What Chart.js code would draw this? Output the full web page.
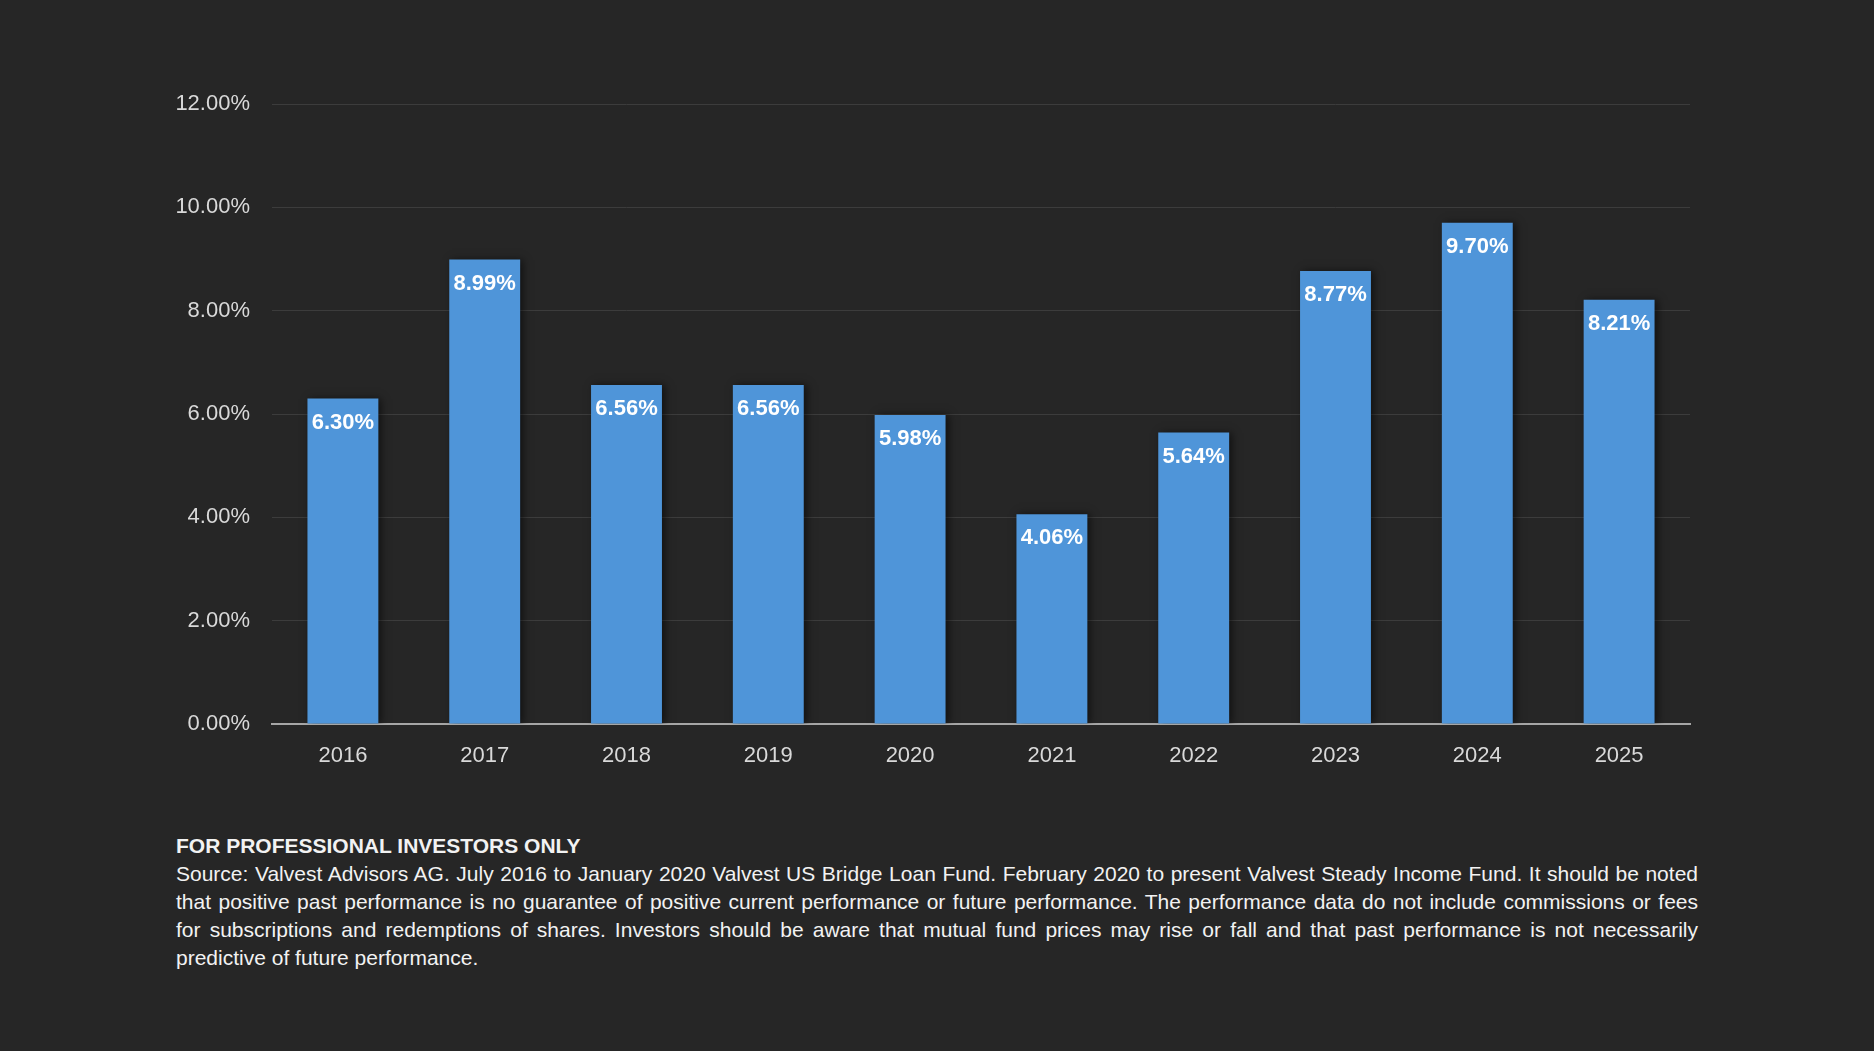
<!DOCTYPE html>
<html>
<head>
<meta charset="utf-8">
<script src="https://cdn.jsdelivr.net/npm/chart.js@4.4.1/dist/chart.umd.min.js"></script>
<style>
  html, body { margin: 0; padding: 0; background: #262626; }
  body { width: 1874px; height: 1051px; position: relative; overflow: hidden; font-family: "Liberation Sans", Arial, sans-serif; }
  #wrap { position: absolute; left: 0; top: 0; width: 1874px; height: 800px; }
  #note { position: absolute; left: 176px; top: 832px; width: 1522px; color: #f2f2f2; font-size: 21px; line-height: 28px; }
  #note div { text-align: justify; text-align-last: justify; white-space: nowrap; }
  #note div.last { text-align-last: left; }
  #note b { font-weight: bold; }
</style>
</head>
<body>
<div id="wrap"><canvas id="Chart_1"></canvas></div>
<div id="note">
  <div class="last"><b>FOR PROFESSIONAL INVESTORS ONLY</b></div>
  <div>Source: Valvest Advisors AG. July 2016 to January 2020 Valvest US Bridge Loan Fund. February 2020 to present Valvest Steady Income Fund. It should be noted</div>
  <div>that positive past performance is no guarantee of positive current performance or future performance. The performance data do not include commissions or fees</div>
  <div>for subscriptions and redemptions of shares. Investors should be aware that mutual fund prices may rise or fall and that past performance is not necessarily</div>
  <div class="last">predictive of future performance.</div>
</div>
<script>
var years = ['2016', '2017', '2018', '2019', '2020', '2021', '2022', '2023', '2024', '2025'];
var returns = [6.30, 8.99, 6.56, 6.56, 5.98, 4.06, 5.64, 8.77, 9.70, 8.21];
var yTicks = [0, 2, 4, 6, 8, 10, 12];

// shadow behind the bars + value labels inside the bar tops
var barExtras = {
    id: 'barExtras',
    beforeDatasetDraw: function(chart) {
        var c = chart.ctx;
        c.save();
        c.shadowColor = 'rgba(0,0,0,0.55)';
        c.shadowBlur = 8;
        c.shadowOffsetX = 3;
        c.shadowOffsetY = 0;
    },
    afterDatasetDraw: function(chart) {
        chart.ctx.restore();
    },
    afterDatasetsDraw: function(chart) {
        var c = chart.ctx;
        var meta = chart.getDatasetMeta(0);
        c.save();
        c.fillStyle = '#ffffff';
        c.font = 'bold 22px "Liberation Sans", Arial, sans-serif';
        c.textAlign = 'center';
        c.textBaseline = 'middle';
        meta.data.forEach(function(bar, i) {
            c.fillText(returns[i].toFixed(2) + '%', bar.x, bar.y + 24);
        });
        c.restore();
    }
};

var ctx = document.getElementById('Chart_1');
var chart = new Chart(ctx, {
    type: 'bar',
    data: {
        labels: years,
        datasets: [{
            data: returns,
            backgroundColor: '#4F95D9',
            borderWidth: 0,
            categoryPercentage: 1,
            barPercentage: 0.5
        }]
    },
    plugins: [barExtras],
    options: {
        responsive: true,
        maintainAspectRatio: false,
        animation: false,
        layout: { padding: { top: 104, right: 184, left: 0, bottom: 0 } },
        plugins: { legend: { display: false }, tooltip: { enabled: false } },
        scales: {
            x: {
                grid: { display: false, drawTicks: false },
                border: { display: true, color: '#a6a6a6', width: 2 },
                ticks: { color: '#d9d9d9', padding: 19, font: { size: 22, family: '"Liberation Sans", Arial, sans-serif' } },
                afterFit: function(scale) { scale.height = 76; }
            },
            y: {
                min: 0,
                max: 12,
                afterBuildTicks: function(scale) {
                    scale.ticks = yTicks.map(function(v) { return { value: v }; });
                },
                grid: { color: '#3c3c3c', lineWidth: 1, drawTicks: false },
                border: { display: false },
                ticks: {
                    color: '#d9d9d9',
                    padding: 22,
                    font: { size: 22, family: '"Liberation Sans", Arial, sans-serif' },
                    callback: function(v) { return v.toFixed(2) + '%'; }
                },
                afterFit: function(scale) { scale.width = 272; }
            }
        }
    }
});
</script>
</body>
</html>
